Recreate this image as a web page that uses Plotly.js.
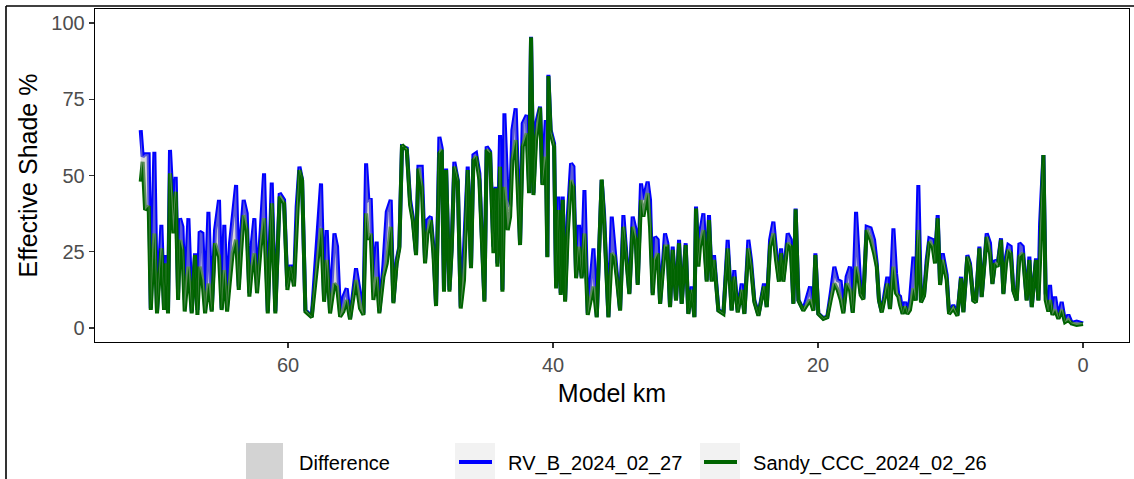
<!DOCTYPE html>
<html>
<head>
<meta charset="utf-8">
<script src="https://cdn.plot.ly/plotly-3.0.1.min.js"></script>
<style>html,body{margin:0;padding:0;background:#fff;}#chart{width:1134px;height:479px;}</style>
</head>
<body>
<div id="chart"></div>
<script>
// Model km positions (descending)
const modelKm = [
71.12,70.97,70.79,70.52,70.36,70.09,69.89,69.56,69.36,69.21,69.06,68.91,68.65,68.48,68.30,68.15,67.97,67.80,67.52,67.27,
67.02,66.84,66.67,66.46,66.26,66.01,65.76,65.51,65.21,65.01,64.81,64.60,64.38,64.18,63.92,63.72,63.55,63.35,63.12,62.92,
62.72,62.54,62.34,62.06,61.81,61.53,61.23,60.96,60.63,60.30,60.05,59.80,59.55,59.35,59.14,58.94,58.69,58.21,57.76,57.51,
57.28,57.08,56.83,56.50,56.30,56.07,
55.82,55.57,55.32,54.87,54.57,54.31,54.11,53.94,53.76,53.56,53.31,53.11,52.80,52.55,52.25,52.05,51.80,51.60,51.40,51.04,
50.79,50.59,50.34,50.16,49.91,49.66,49.48,49.23,49.03,48.83,48.58,48.40,48.23,48.07,47.82,47.65,47.45,47.19,46.97,46.72,
46.44,46.19,46.01,45.81,45.56,45.18,45.01,44.75,44.50,44.35,44.20,44.00,43.82,43.67,43.42,43.24,43.07,42.82,42.49,42.29,
41.99,41.81,41.66,41.48,41.28,40.98,40.80,40.55,40.43,40.35,40.18,39.92,39.77,39.60,39.42,39.27,39.09,38.89,38.64,38.46,
38.26,38.04,37.84,37.63,37.38,36.95,36.70,
36.33,36.15,35.82,35.57,35.37,35.20,34.94,34.69,34.49,34.24,33.99,33.76,33.61,33.36,33.18,32.86,32.68,32.48,32.30,32.10,
31.92,31.55,31.37,31.17,30.97,30.72,30.49,30.29,29.99,29.79,29.54,29.33,29.21,29.03,28.91,28.65,28.40,28.23,28.03,27.85,
27.52,27.14,26.82,26.52,26.32,26.06,25.76,25.56,25.26,25.06,24.81,24.50,24.08,23.87,23.62,23.37,23.17,22.95,22.79,22.62,
22.29,22.06,21.86,21.69,21.48,21.11,20.60,20.35,20.20,19.98,19.60,19.30,19.04,18.77,18.52,18.29,18.09,17.84,
17.59,17.38,17.13,16.96,16.78,16.58,16.33,16.03,15.77,15.57,15.40,15.19,14.94,14.77,14.57,14.31,14.11,13.94,13.81,13.61,
13.43,13.26,13.06,12.80,12.63,12.43,12.23,12.00,11.80,11.60,11.35,11.17,10.97,10.79,10.59,10.29,10.11,9.79,9.48,9.21,
9.03,8.73,8.53,8.28,8.08,7.82,7.65,7.27,7.02,6.84,6.64,6.44,6.19,6.01,5.81,5.64,5.46,5.26,5.01,4.80,
4.55,4.25,4.05,3.87,3.55,3.37,3.24,2.99,2.82,2.62,2.49,2.31,2.11,1.86,1.61,1.36,1.11,0.86,0.48,0.00
];
// Effective shade %, RV_B_2024_02_27
const rvB = [
64.9,56.2,57.0,57.0,6.4,57.8,5.4,33.8,7.0,23.9,5.4,58.4,36.5,49.6,11.4,36.0,33.2,9.2,36.0,5.4,
24.5,5.9,31.6,31.0,5.9,38.1,5.9,32.1,42.0,6.4,33.8,7.0,27.8,36.0,46.9,13.6,31.0,42.0,37.6,11.4,
28.3,36.0,13.6,32.1,50.7,5.4,47.7,5.4,44.2,42.0,13.6,20.7,14.6,39.8,52.9,48.5,5.9,3.7,29.4,47.4,
9.2,32.1,5.4,31.0,26.7,4.3,
10.3,13.0,3.2,19.6,11.4,4.8,54.0,42.0,42.5,14.6,28.3,5.4,20.7,38.1,42.0,8.6,22.3,26.7,59.5,58.9,
42.0,36.5,24.5,52.9,52.9,22.3,35.4,36.5,26.7,7.5,62.7,58.9,12.5,52.3,12.5,26.7,54.5,48.5,7.0,25.6,
52.9,20.1,56.7,57.3,50.7,9.2,59.5,57.8,26.7,46.3,21.2,63.3,12.5,70.4,42.0,39.8,64.9,72.0,27.8,67.1,
69.8,47.4,95.5,44.2,67.1,72.6,47.4,68.2,23.4,83.0,64.9,60.5,13.6,43.1,11.4,43.1,9.2,36.5,54.0,52.9,
16.8,33.8,16.8,45.2,4.8,26.1,3.7,
48.5,37.6,3.7,36.5,27.2,17.9,5.9,37.0,25.6,11.4,36.5,32.1,14.6,47.4,42.0,48.0,42.0,11.4,29.9,28.9,
8.1,31.0,27.8,7.0,26.7,9.2,28.9,8.1,27.8,4.8,13.6,3.7,39.8,22.3,31.0,37.6,15.7,37.0,15.7,23.9,
5.9,4.8,28.9,5.9,19.0,5.4,14.6,4.8,28.9,22.3,9.2,4.3,14.6,7.0,28.9,34.9,25.6,15.7,26.1,15.7,
31.0,28.9,8.1,39.2,9.2,5.9,13.6,5.9,24.5,4.8,3.2,3.7,11.4,20.1,15.7,15.2,5.4,16.8,
20.1,5.4,38.1,24.5,11.4,9.7,33.2,32.7,28.9,21.2,9.2,5.4,11.4,16.8,6.4,32.7,17.9,10.8,10.3,4.8,
8.6,4.8,9.2,23.4,9.2,46.9,8.6,10.8,22.3,29.4,28.9,22.3,37.0,14.6,24.5,17.4,4.8,7.5,4.3,16.8,
5.4,23.9,21.2,9.2,8.6,26.7,10.3,31.0,27.8,14.6,22.3,21.2,29.4,11.4,23.4,27.2,26.7,12.5,9.2,27.8,
26.7,9.2,23.4,7.0,22.8,9.2,34.3,56.7,11.4,5.9,14.1,4.8,10.3,3.2,8.6,2.1,4.3,1.7,2.1,1.5
];
// Effective shade %, Sandy_CCC_2024_02_26
const sandyCCC = [
48.0,54.5,38.7,40.0,5.9,31.0,4.8,26.1,5.9,21.2,4.8,50.7,31.0,44.7,9.2,28.9,25.6,5.4,20.1,4.8,
23.9,4.3,20.1,15.7,4.8,14.6,5.4,27.8,23.4,5.9,19.0,5.4,15.7,24.5,28.9,12.5,24.5,37.0,32.1,10.3,
20.1,24.5,11.4,26.7,36.0,4.8,40.9,4.8,43.1,40.9,12.5,20.1,13.6,31.0,51.8,48.5,5.4,3.5,23.4,32.7,
8.6,22.3,4.8,14.6,13.6,3.7,
5.4,9.2,2.8,15.7,6.4,4.3,37.6,28.9,31.0,9.2,16.8,4.8,16.8,21.2,33.2,8.1,21.2,26.1,60.0,58.4,
40.3,35.4,23.9,52.3,46.3,21.2,31.0,35.4,24.5,7.2,57.3,58.4,11.9,51.8,11.9,25.6,52.9,48.0,6.4,15.7,
51.8,19.6,55.1,56.2,48.5,8.6,58.4,57.3,24.5,45.8,20.1,52.9,11.9,46.3,32.1,36.5,55.1,61.6,27.2,59.5,
63.8,44.2,95.3,43.6,61.6,72.3,46.9,56.2,23.2,82.6,63.8,59.5,13.0,38.7,10.8,42.0,8.6,31.0,48.5,46.3,
16.3,26.7,16.3,31.0,4.3,13.6,3.5,
48.7,35.4,3.5,24.5,23.4,16.8,5.7,33.2,24.5,11.1,33.2,28.9,14.1,42.0,36.5,44.2,33.2,10.8,22.3,24.5,
7.9,26.7,26.7,6.8,25.6,9.0,27.8,7.9,27.2,4.6,12.5,3.5,39.2,20.1,26.7,32.1,15.2,35.4,15.2,22.3,
5.7,4.6,26.1,5.7,16.8,5.1,12.5,4.6,26.1,20.1,8.6,4.0,13.6,6.8,26.7,31.0,22.3,15.2,24.5,15.2,
27.8,26.7,7.9,38.9,9.0,5.7,9.2,5.7,23.9,4.6,3.0,3.5,9.2,14.6,12.5,9.2,4.8,14.6,
12.5,5.0,20.1,16.8,10.8,9.4,32.1,28.9,24.5,20.1,9.0,5.1,10.3,14.6,6.2,20.1,11.4,10.3,7.5,4.6,
7.0,4.6,5.9,13.0,9.0,32.1,8.4,10.6,20.1,28.3,26.7,21.2,36.0,14.1,22.3,15.7,4.6,6.4,4.0,16.3,
5.1,23.4,20.1,9.0,8.4,26.1,10.1,29.9,24.5,14.4,21.2,20.1,28.9,11.1,21.2,25.6,24.5,12.2,9.0,23.4,
24.5,9.0,22.3,6.8,22.3,9.0,22.3,56.7,9.2,5.4,9.2,4.3,5.9,3.0,5.9,1.9,2.6,1.5,1.0,1.3
];
const xTicks = [0, 20, 40, 60];
const yTicks = [0, 25, 50, 75, 100];
const legendNames = ['Difference', 'RV_B_2024_02_27', 'Sandy_CCC_2024_02_26'];

// layout geometry in page pixels
const W = 1134, H = 479, L = 95, R = 1129, T = 9, B = 342;
const px = x => (x - L) / (R - L);
const py = y => (B - y) / (B - T);
const FONT = 'Liberation Sans, Arial, sans-serif';
const GAP = '\u00a0\u00a0';

const traces = [
  {x: modelKm, y: rvB, type: 'scatter', mode: 'lines', name: GAP + legendNames[1], legend: 'legend2',
   line: {color: '#0000ff', width: 4}, hoverinfo: 'x+y'},
  {x: modelKm, y: sandyCCC, type: 'scatter', mode: 'lines', name: GAP + legendNames[2], legend: 'legend3',
   line: {color: '#006400', width: 4}, hoverinfo: 'x+y'},
  {x: modelKm, y: sandyCCC, type: 'scatter', mode: 'lines', showlegend: false,
   line: {width: 0, color: 'rgba(0,0,0,0)'}, hoverinfo: 'skip'},
  {x: modelKm, y: rvB, type: 'scatter', mode: 'lines', name: legendNames[0], showlegend: false,
   fill: 'tonexty', fillcolor: 'rgba(179,179,179,0.5)',
   line: {width: 0, color: 'rgba(0,0,0,0)'}, hoverinfo: 'skip'},
  // legend entry for the ribbon (no data of its own)
  {x: [null], y: [null], type: 'scatter', mode: 'lines', name: GAP + legendNames[0], legend: 'legend',
   fill: 'toself', fillcolor: '#d3d3d3', line: {width: 0, color: 'rgba(0,0,0,0)'}, hoverinfo: 'skip'}
];

const legendY = py(462);
const legBase = {orientation: 'h', yanchor: 'middle', xanchor: 'left', y: legendY,
  bgcolor: 'rgba(0,0,0,0)', font: {family: FONT, size: 20, color: '#000'}};

const layout = {
  width: W, height: H,
  margin: {l: L, r: W - R, t: T, b: H - B, pad: 0, autoexpand: false},
  paper_bgcolor: '#fff', plot_bgcolor: '#fff',
  font: {family: FONT},
  xaxis: {
    range: [74.57, -3.47], tickvals: xTicks, ticktext: xTicks.map(String),
    ticks: 'outside', ticklen: 5, tickwidth: 1.3, tickcolor: '#333',
    showline: true, mirror: true, linecolor: '#000', linewidth: 1.3,
    showgrid: false, zeroline: false, automargin: false,
    tickfont: {family: FONT, size: 20, color: '#4d4d4d'},
    title: {text: 'Model km', font: {family: FONT, size: 25, color: '#000'}, standoff: 9}
  },
  yaxis: {
    range: [-4.59, 104.6], tickvals: yTicks, ticktext: yTicks.map(String),
    ticks: 'outside', ticklen: 5, tickwidth: 1.3, tickcolor: '#333',
    showline: true, mirror: true, linecolor: '#000', linewidth: 1.3,
    showgrid: false, zeroline: false, automargin: false,
    tickfont: {family: FONT, size: 20, color: '#4d4d4d'},
    title: {text: 'Effective Shade %', font: {family: FONT, size: 25, color: '#000'}, standoff: 6}
  },
  showlegend: true,
  legend: Object.assign({}, legBase, {x: px(241), itemwidth: 37}),
  legend2: Object.assign({}, legBase, {x: px(454), itemwidth: 33}),
  legend3: Object.assign({}, legBase, {x: px(699), itemwidth: 33}),
  shapes: [
    // outer frame (top and left)
    {type: 'line', xref: 'paper', yref: 'paper', x0: px(6), x1: px(1134), y0: py(6), y1: py(6),
     line: {color: '#000', width: 1.6}},
    {type: 'line', xref: 'paper', yref: 'paper', x0: px(6), x1: px(6), y0: py(6), y1: py(479),
     line: {color: '#000', width: 1.6}},
    // legend key backgrounds
    {type: 'rect', xref: 'paper', yref: 'paper', x0: px(246), x1: px(283), y0: py(443), y1: py(479),
     fillcolor: '#d3d3d3', line: {width: 0}, layer: 'below'},
    {type: 'rect', xref: 'paper', yref: 'paper', x0: px(455), x1: px(495), y0: py(443), y1: py(479),
     fillcolor: '#f2f2f2', line: {width: 0}, layer: 'below'},
    {type: 'rect', xref: 'paper', yref: 'paper', x0: px(700), x1: px(740), y0: py(443), y1: py(479),
     fillcolor: '#f2f2f2', line: {width: 0}, layer: 'below'}
  ]
};

Plotly.newPlot('chart', traces, layout, {staticPlot: true, displayModeBar: false});
</script>
</body>
</html>
